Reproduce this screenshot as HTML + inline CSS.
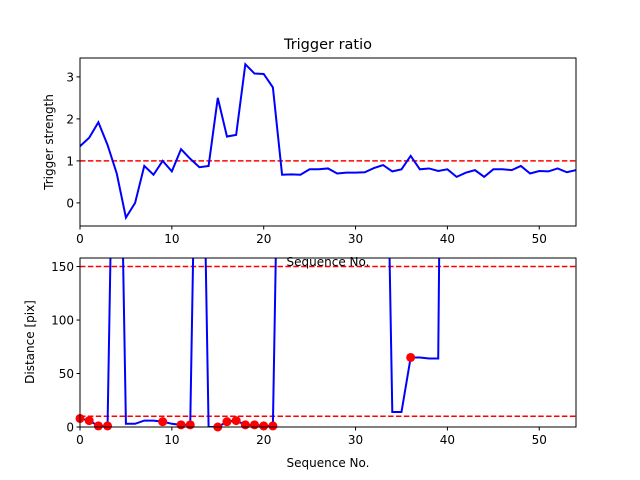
<!DOCTYPE html>
<html><head><meta charset="utf-8"><style>body{margin:0;background:#fff}svg{display:block;font-family:"DejaVu Sans","Liberation Sans",sans-serif}</style></head>
<body>
<svg id="c" width="640" height="480" xmlns="http://www.w3.org/2000/svg"></svg>
<script>
const seq = Array.from({length:55},(_, i)=>i);
const strength = [1.35,1.55,1.92,1.38,0.7,-0.35,0,0.88,0.67,1.0,0.75,1.28,1.05,0.85,0.88,2.5,1.58,1.62,3.3,3.08,3.07,2.75,0.67,0.68,0.67,0.8,0.8,0.82,0.7,0.72,0.72,0.73,0.83,0.9,0.75,0.8,1.12,0.8,0.82,0.76,0.8,0.62,0.72,0.78,0.62,0.8,0.8,0.78,0.88,0.7,0.76,0.75,0.82,0.73,0.78];
const distance = [8,6,1,1,500,3,3,6,6,5,3,2,2,500,0,0,5,6,2,2,1,1,500,500,500,500,500,500,500,500,500,500,500,500,14,14,65,65,64,64,1000,1000,1000,1000,1000,1000,1000,1000,1000,1000,1000,1000,1000,1000,1000];
const markerIdx = [0,1,2,3,9,11,12,15,16,17,18,19,20,21,36];
const xTicks = [0,10,20,30,40,50];
const topYTicks = [0,1,2,3];
const botYTicks = [0,50,100,150];
const thrTop = [1.0];
const thrBot = [10,150];

const NS="http://www.w3.org/2000/svg", svg=document.getElementById('c');
function mk(tag,attrs,parent){const e=document.createElementNS(NS,tag);for(const k in attrs)e.setAttribute(k,attrs[k]);(parent||svg).appendChild(e);return e;}
const X0=80,X1=576,xmin=0,xmax=54;
const sx=v=>X0+(v-xmin)/(xmax-xmin)*(X1-X0);
const topY=v=>226-(v-(-0.55))/(3.45+0.55)*168;
const botY=v=>427-(v-0)/(158-0)*169;

function axes(y0,y1,sy,yt,name){
  const g=mk('g',{});
  
  
  mk('rect',{x:X0,y:y0,width:X1-X0,height:y1-y0,fill:'#fff'},g);
  const cp=mk('clipPath',{id:name+'-clip'},g);
  mk('rect',{x:X0,y:y0,width:X1-X0,height:y1-y0},cp);
  const inner=mk('g',{'clip-path':'url(#'+name+'-clip)'},g);
  xTicks.forEach(t=>{const x=sx(t);mk('line',{x1:x,x2:x,y1:y1,y2:y1+3.5,stroke:'#000'},g);
    const tx=mk('text',{x:x,y:y1+17,'font-size':'12','text-anchor':'middle'},g);tx.textContent=t;
    
    });
  yt.forEach(t=>{const y=sy(t);mk('line',{x1:X0-3.5,x2:X0,y1:y,y2:y,stroke:'#000'},g);
    const tx=mk('text',{x:X0-6,y:y+4.5,'font-size':'12','text-anchor':'end'},g);tx.textContent=t;
    
    });
  return {g,inner};
}
function frame(g,y0,y1){mk('rect',{x:X0,y:y0,width:X1-X0,height:y1-y0,fill:'none',stroke:'#000','stroke-width':1},g);}

// Top
const T=axes(58,226,topY,topYTicks,'top-axes');
thrTop.forEach(v=>{const l=mk('line',{x1:X0,x2:X1,y1:topY(v),y2:topY(v),stroke:'red','stroke-width':1.5,'stroke-dasharray':'5.5,2.4'},T.inner);
  
  });
const p1=mk('polyline',{points:strength.map((v,i)=>sx(seq[i])+','+topY(v)).join(' '),fill:'none',stroke:'blue','stroke-width':2},T.inner);


frame(T.g,58,226);
let t=mk('text',{x:328,y:49,'font-size':'14.5','text-anchor':'middle'});t.textContent='Trigger ratio';

t=mk('text',{x:0,y:0,'font-size':'12','text-anchor':'middle',transform:'translate(53,142) rotate(-90)'});t.textContent='Trigger strength';


// Bottom
const B=axes(258,427,botY,botYTicks,'bottom-axes');
thrBot.forEach(v=>{const l=mk('line',{x1:X0,x2:X1,y1:botY(v),y2:botY(v),stroke:'red','stroke-width':1.5,'stroke-dasharray':'5.5,2.4'},B.inner);
  
  });
const p2=mk('polyline',{points:distance.map((v,i)=>sx(seq[i])+','+botY(v)).join(' '),fill:'none',stroke:'blue','stroke-width':2},B.inner);


markerIdx.forEach(i=>{const c=mk('circle',{cx:sx(seq[i]),cy:botY(distance[i]),r:4.5,fill:'red'},B.g);
  
  });
frame(B.g,258,427);
t=mk('text',{x:328,y:266,'font-size':'12','text-anchor':'middle'});t.textContent='Sequence No.';

t=mk('text',{x:328,y:467,'font-size':'12','text-anchor':'middle'});t.textContent='Sequence No.';

t=mk('text',{x:0,y:0,'font-size':'12','text-anchor':'middle',transform:'translate(34,342) rotate(-90)'});t.textContent='Distance [pix]';

</script>
</body></html>
